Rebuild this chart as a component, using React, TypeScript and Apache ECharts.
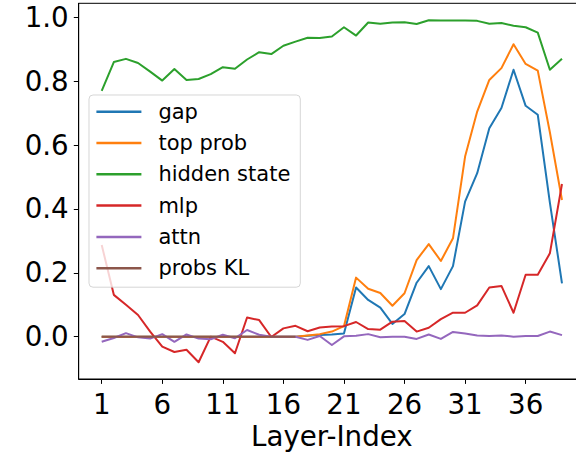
import React, { useEffect, useRef } from "react";
import * as echarts from "echarts";

const layers = [1, 2, 3, 4, 5, 6, 7, 8, 9, 10, 11, 12, 13, 14, 15, 16, 17, 18, 19, 20, 21, 22, 23, 24, 25, 26, 27, 28, 29, 30, 31, 32, 33, 34, 35, 36, 37, 38, 39];

const gap = [0, 0, 0, 0, 0, 0, 0, 0, 0, 0, 0, 0, 0, 0, 0, 0, 0, 0.003, 0.005, 0.007, 0.01, 0.154, 0.115, 0.091, 0.04, 0.071, 0.169, 0.221, 0.149, 0.221, 0.423, 0.512, 0.653, 0.716, 0.836, 0.723, 0.695, 0.42, 0.167];

const topProb = [0, 0, 0, 0, 0, 0, 0, 0, 0, 0, 0, 0, 0, 0, 0, 0, 0, 0.004, 0.008, 0.016, 0.033, 0.185, 0.15, 0.137, 0.097, 0.136, 0.24, 0.29, 0.237, 0.308, 0.564, 0.705, 0.804, 0.841, 0.916, 0.854, 0.833, 0.64, 0.428];

const hiddenState = [0.77, 0.86, 0.87, 0.857, 0.83, 0.802, 0.838, 0.804, 0.807, 0.822, 0.844, 0.839, 0.868, 0.891, 0.885, 0.911, 0.924, 0.936, 0.935, 0.94, 0.969, 0.943, 0.984, 0.98, 0.984, 0.985, 0.979, 0.991, 0.99, 0.99, 0.99, 0.989, 0.98, 0.982, 0.974, 0.969, 0.952, 0.836, 0.87];

const mlp = [0.287, 0.131, 0.1, 0.068, 0.016, -0.031, -0.048, -0.041, -0.08, 0.0, -0.016, -0.052, 0.06, 0.052, -0.001, 0.026, 0.034, 0.017, 0.029, 0.032, 0.033, 0.046, 0.024, 0.022, 0.047, 0.049, 0.016, 0.028, 0.055, 0.075, 0.075, 0.098, 0.154, 0.159, 0.075, 0.194, 0.194, 0.261, 0.478];

const attn = [-0.016, -0.004, 0.011, -0.002, -0.006, 0.008, -0.016, 0.007, -0.006, -0.008, 0.006, -0.005, 0.021, 0.006, 0.0, 0.0, 0.0, -0.01, 0.002, -0.026, 0.001, 0.003, 0.008, -0.002, 0.0, 0.0, -0.007, 0.007, -0.007, 0.015, 0.01, 0.004, 0.002, 0.004, 0.0, 0.002, 0.002, 0.016, 0.005];

const probsKL = [0, 0, 0, 0, 0, 0, 0, 0, 0, 0, 0, 0, 0, 0, 0, 0, 0];

const xTicks = [1, 6, 11, 16, 21, 26, 31, 36];
const yTicks = [0, 0.2, 0.4, 0.6, 0.8, 1.0];

const seriesDefs = [
  { name: "gap", values: gap, color: "#1f77b4" },
  { name: "top prob", values: topProb, color: "#ff7f0e" },
  { name: "hidden state", values: hiddenState, color: "#2ca02c" },
  { name: "mlp", values: mlp, color: "#d62728" },
  { name: "attn", values: attn, color: "#9467bd" },
  { name: "probs KL", values: probsKL, color: "#8c564b" },
];

const FONT = "DejaVu Sans";

export default function App() {
  const ref = useRef<HTMLDivElement>(null);
  useEffect(() => {
    if (!ref.current) return;
    const chart = echarts.init(ref.current, undefined, { renderer: "svg" });
    chart.setOption({
      animation: false,
      grid: {
        left: 78.7,
        right: 15,
        top: 3.3,
        bottom: 73,
        outerBoundsMode: "none",
        containLabel: false,
        show: true,
        borderColor: "#000",
        borderWidth: 1,
        backgroundColor: "transparent",
      },
      legend: {
        orient: "vertical",
        left: 89,
        top: 95,
        padding: [4.7, 10, 7, 7.4],
        itemGap: 7.3,
        itemWidth: 45,
        itemHeight: 2.5,
        icon: "rect",
        backgroundColor: "rgba(255,255,255,0.8)",
        borderColor: "rgba(204,204,204,0.8)",
        borderWidth: 1,
        borderRadius: 4,
        textStyle: {
          fontFamily: FONT,
          fontSize: 21,
          lineHeight: 24,
          color: "#000",
          padding: [0, 0, 0, 12],
        },
        data: seriesDefs.map((s) => s.name),
      },
      xAxis: {
        type: "value",
        min: -0.9,
        max: 40.9,
        name: "Layer-Index",
        nameLocation: "middle",
        nameGap: 42,
        nameTextStyle: { fontFamily: FONT, fontSize: 27.7, color: "#000" },
        axisLine: { show: true, onZero: false, lineStyle: { color: "#000", width: 1 } },
        axisTick: { show: true, length: 4.9, customValues: xTicks, lineStyle: { color: "#000", width: 1 } },
        axisLabel: {
          customValues: xTicks,
          fontFamily: FONT,
          fontSize: 27.7,
          color: "#000",
          margin: 11,
        },
        splitLine: { show: false },
      },
      yAxis: {
        type: "value",
        min: -0.1325,
        max: 1.044,
        axisLine: { show: true, onZero: false, lineStyle: { color: "#000", width: 1 } },
        axisTick: { show: true, length: 4.9, customValues: yTicks, lineStyle: { color: "#000", width: 1 } },
        axisLabel: {
          customValues: yTicks,
          fontFamily: FONT,
          fontSize: 27.7,
          color: "#000",
          margin: 10,
          formatter: (v: number) => v.toFixed(1),
        },
        splitLine: { show: false },
      },
      series: seriesDefs.map((s) => ({
        name: s.name,
        type: "line",
        symbol: "none",
        showSymbol: false,
        color: s.color,
        lineStyle: { color: s.color, width: 2, join: "round" },
        data: s.values.map((v, i) => [layers[i], v]),
      })),
    });
    return () => chart.dispose();
  }, []);
  return (
    <div style={{ position: "absolute", left: 0, top: 0, width: 576, height: 452, overflow: "hidden", background: "#fff" }}>
      <div ref={ref} style={{ width: 600, height: 452 }} />
    </div>
  );
}
